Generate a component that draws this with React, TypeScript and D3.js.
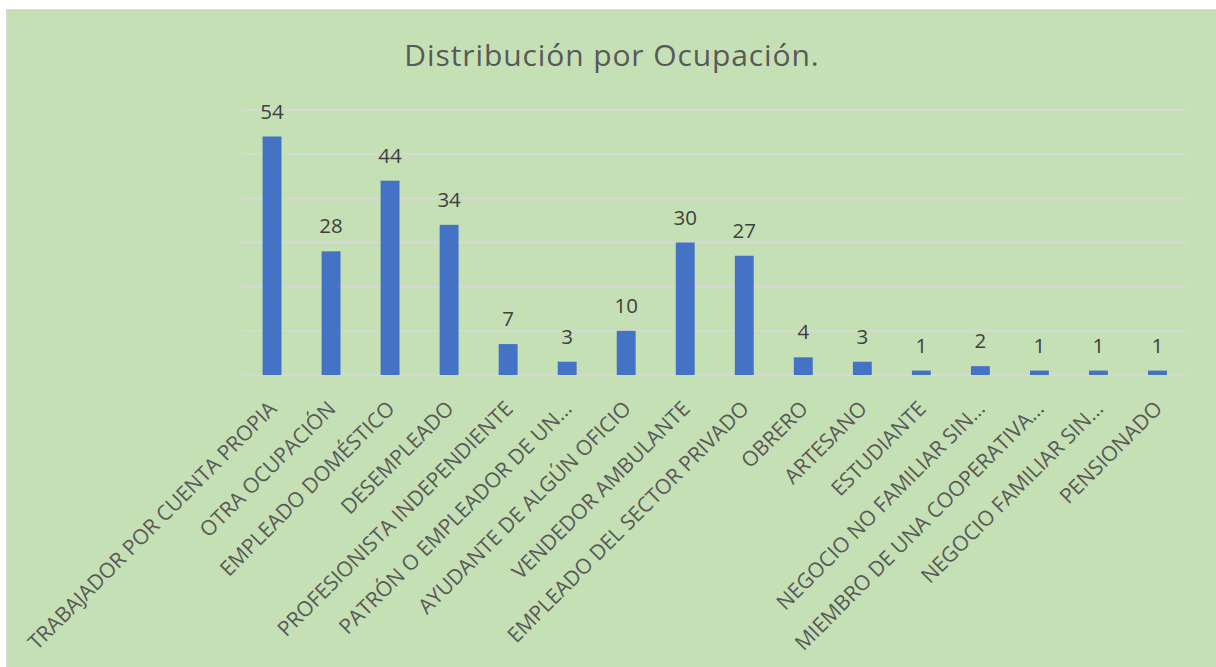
import React from "react";
import * as d3 from "d3";

const categories = [
  "TRABAJADOR POR CUENTA PROPIA",
  "OTRA OCUPACIÓN",
  "EMPLEADO DOMÉSTICO",
  "DESEMPLEADO",
  "PROFESIONISTA INDEPENDIENTE",
  "PATRÓN O EMPLEADOR DE UN…",
  "AYUDANTE DE ALGÚN OFICIO",
  "VENDEDOR AMBULANTE",
  "EMPLEADO DEL SECTOR PRIVADO",
  "OBRERO",
  "ARTESANO",
  "ESTUDIANTE",
  "NEGOCIO NO FAMILIAR SIN…",
  "MIEMBRO DE UNA COOPERATIVA…",
  "NEGOCIO FAMILIAR SIN…",
  "PENSIONADO",
];
const values = [54, 28, 44, 34, 7, 3, 10, 30, 27, 4, 3, 1, 2, 1, 1, 1];
const gridTicks = [0, 10, 20, 30, 40, 50, 60];
const title = "Distribución por Ocupación.";

const W = 1216;
const H = 667;
const plot = { left: 242.5, right: 1187, top: 110, bottom: 375 };
const FONT = "'Open Sans', 'Segoe UI', sans-serif";

export default function App() {
  const x = d3
    .scaleBand<string>()
    .domain(categories)
    .range([plot.left, plot.right])
    .paddingInner(0.68)
    .paddingOuter(0.34);
  const y = d3.scaleLinear().domain([0, 60]).range([plot.bottom, plot.top]);

  return (
    <svg
      width={W}
      height={H}
      style={{ position: "absolute", left: 0, top: 0, background: "#ffffff" }}
    >
      <rect x={6.5} y={9.5} width={W} height={H} fill="#c5e0b4" stroke="#d9d9d9" strokeWidth={1} />
      <text
        x={612}
        y={66}
        textAnchor="middle"
        fontFamily={FONT}
        fontSize={30}
        letterSpacing={0.9}
        fill="#595959"
      >
        {title}
      </text>
      {gridTicks.map((t) => (
        <line
          key={t}
          x1={plot.left}
          x2={plot.right}
          y1={y(t)}
          y2={y(t)}
          stroke="#d9d9d9"
          strokeWidth={1.3}
        />
      ))}
      {categories.map((c, i) => (
        <g key={c}>
          <rect
            x={x(c)}
            y={y(values[i])}
            width={x.bandwidth()}
            height={y(0) - y(values[i])}
            fill="#4472c4"
          />
          <text
            x={(x(c) as number) + x.bandwidth() / 2}
            y={y(values[i]) - 18}
            textAnchor="middle"
            fontFamily={FONT}
            fontSize={20.5}
            fill="#404040"
          >
            {values[i]}
          </text>
          <text
            transform={`translate(${(x(c) as number) + x.bandwidth() / 2 + 6},${plot.bottom + 35}) rotate(-45)`}
            textAnchor="end"
            fontFamily={FONT}
            fontSize={21}
            fill="#595959"
          >
            {c}
          </text>
        </g>
      ))}
    </svg>
  );
}
